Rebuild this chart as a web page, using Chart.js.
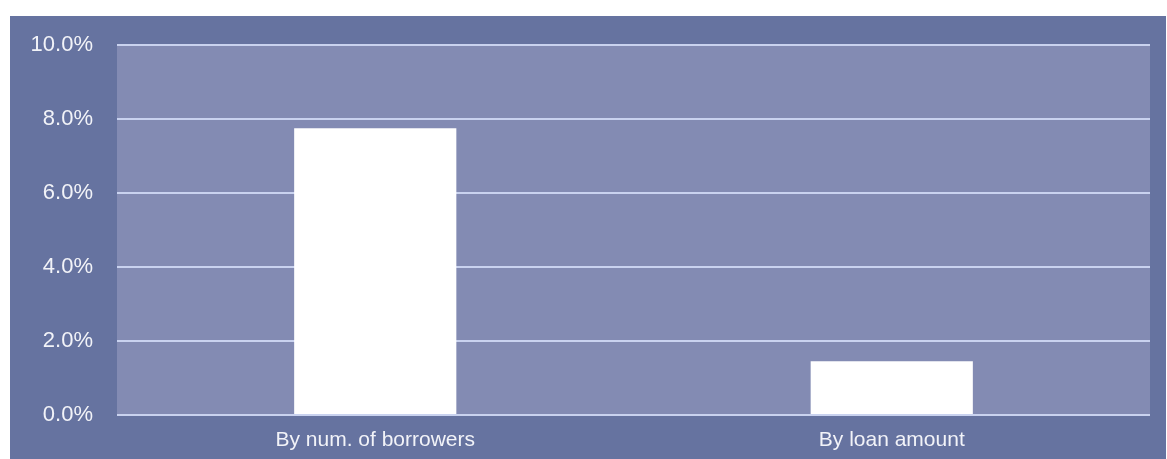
<!DOCTYPE html>
<html>
<head>
<meta charset="utf-8">
<script src="https://cdn.jsdelivr.net/npm/chart.js@4"></script>
<style>
  html, body { margin: 0; padding: 0; background: #ffffff; }
  #wrap { position: absolute; left: 10px; top: 16px; width: 1156px; height: 443px; background: #6673a0; }
  #chart { display: block; }
</style>
</head>
<body>
<div id="wrap"><canvas id="chart" width="1156" height="443"></canvas></div>
<script>
// Part des prêts en défaut
const categories = ['By num. of borrowers', 'By loan amount'];
const shareValues = [7.75, 1.45];
const yTicks = [0, 2, 4, 6, 8, 10];

// fond de la zone de tracé
const plotBackground = {
  id: 'plotBackground',
  beforeDraw(chart) {
    const { ctx, chartArea } = chart;
    ctx.save();
    ctx.fillStyle = '#838bb3';
    ctx.fillRect(chartArea.left, chartArea.top, chartArea.right - chartArea.left, chartArea.bottom - chartArea.top);
    ctx.restore();
  }
};

new Chart(document.getElementById('chart'), {
  type: 'bar',
  data: {
    labels: categories,
    datasets: [{
      data: shareValues,
      backgroundColor: '#ffffff',
      borderWidth: 0,
      barPercentage: 0.314,
      categoryPercentage: 1
    }]
  },
  options: {
    responsive: false,
    animation: false,
    layout: { padding: { top: 29, right: 16, left: 0, bottom: 0 } },
    plugins: {
      legend: { display: false },
      tooltip: { enabled: false }
    },
    scales: {
      x: {
        grid: { display: false, drawTicks: false },
        border: { display: false },
        ticks: {
          color: '#f2f3f8',
          padding: 13,
          font: { family: 'Liberation Sans, Arial, sans-serif', size: 21 }
        },
        afterFit(scale) {
          scale.height = 44;
          scale.paddingLeft = 0;
          scale.paddingRight = 0;
        }
      },
      y: {
        min: 0,
        max: 10,
        afterBuildTicks(scale) {
          scale.ticks = yTicks.map(v => ({ value: v }));
        },
        grid: { color: '#c9d2ef', lineWidth: 2, drawTicks: false },
        border: { display: false },
        ticks: {
          color: '#f2f3f8',
          padding: 24,
          font: { family: 'Liberation Sans, Arial, sans-serif', size: 22 },
          callback: v => v.toFixed(1) + '%'
        },
        afterFit(scale) {
          scale.width = 107;
          // pas de marge auto pour les libellés extrêmes
          scale.paddingTop = 0;
          scale.paddingBottom = 0;
        }
      }
    }
  },
  plugins: [plotBackground]
});
</script>
</body>
</html>
